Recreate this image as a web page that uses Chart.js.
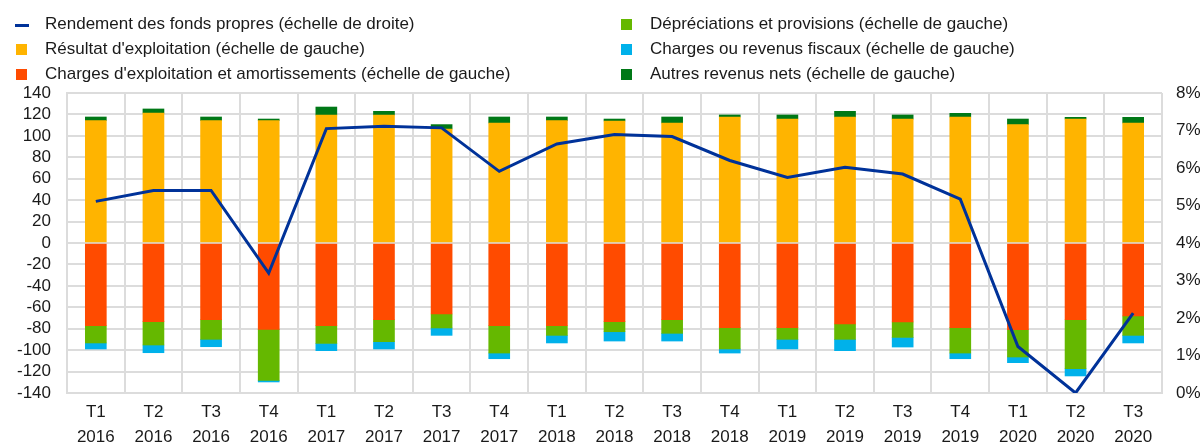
<!DOCTYPE html>
<html>
<head>
<meta charset="utf-8">
<script src="https://cdn.jsdelivr.net/npm/chart.js@4.4.1/dist/chart.umd.min.js"></script>
<style>
  body { margin: 0; background: #fff; font-family: "Liberation Sans", Arial, sans-serif; }
  #wrap { position: relative; width: 1202px; height: 445px; }
  .leg { position: absolute; font-size: 17px; color: #1a1a1a; white-space: nowrap; line-height: 18px; }
  .leg i { position: absolute; left: -29px; top: 4px; width: 11px; height: 11px; }
  .leg i.ln { height: 3px; top: 9px; width: 14px; left: -30px; }
</style>
</head>
<body>
<div id="wrap">
  <canvas id="c" width="1202" height="445"></canvas>
</div>
<script>
// categories
const trimestres = ['T1','T2','T3','T4','T1','T2','T3','T4','T1','T2','T3','T4','T1','T2','T3','T4','T1','T2','T3'];
const annees = ['2016','2016','2016','2016','2017','2017','2017','2017','2018','2018','2018','2018','2019','2019','2019','2019','2020','2020','2020'];

// series (left axis, bars)
const resultatExploitation = [114.2,121.3,114.2,114.2,119.5,119.5,106.4,112.0,114.2,113.9,112.0,117.6,115.7,117.6,115.7,117.6,110.5,115.7,112.0];
const chargesExploitation = [-77.2,-73.4,-71.6,-80.6,-77.2,-71.6,-66.3,-77.2,-77.2,-73.4,-71.6,-79.0,-79.0,-75.6,-73.7,-79.0,-80.9,-71.6,-68.1];
const depreciations = [-16.1,-21.8,-18.3,-47.6,-16.5,-20.5,-13.0,-25.5,-9.0,-9.4,-12.7,-19.9,-10.9,-14.3,-14.4,-23.7,-25.5,-45.7,-18.1];
const fiscaux = [-5.6,-7.2,-6.9,-1.5,-6.8,-6.8,-6.9,-5.3,-7.1,-8.7,-7.2,-3.8,-9.0,-10.6,-9.0,-5.3,-5.3,-6.8,-7.1];
const autresRevenus = [3.4,3.8,3.4,1.5,7.4,3.4,4.1,5.6,3.4,1.8,5.6,1.9,3.8,5.3,3.8,3.4,5.2,1.6,5.3];

// series (right axis, line, %)
const rendement = [5.11,5.40,5.40,3.20,7.05,7.11,7.07,5.91,6.64,6.89,6.84,6.20,5.75,6.02,5.84,5.17,1.24,0.0,2.13];

// tick labels
const ticksGauche = [140,120,100,80,60,40,20,0,-20,-40,-60,-80,-100,-120,-140];
const ticksDroite = ['0%','1%','2%','3%','4%','5%','6%','7%','8%'];

// legend
const legende = [
  { txt: 'Rendement des fonds propres (échelle de droite)', col: '#003299', line: true, x: 45, y: 15 },
  { txt: "Résultat d'exploitation (échelle de gauche)", col: '#FFB400', x: 45, y: 40 },
  { txt: "Charges d'exploitation et amortissements (échelle de gauche)", col: '#FF4B00', x: 45, y: 65 },
  { txt: 'Dépréciations et provisions (échelle de gauche)', col: '#65B800', x: 650, y: 15 },
  { txt: 'Charges ou revenus fiscaux (échelle de gauche)', col: '#00B1EA', x: 650, y: 40 },
  { txt: 'Autres revenus nets (échelle de gauche)', col: '#007816', x: 650, y: 65 }
];
const wrap = document.getElementById('wrap');
legende.forEach(l => {
  const d = document.createElement('div');
  d.className = 'leg';
  d.style.left = l.x + 'px';
  d.style.top = l.y + 'px';
  d.innerHTML = `<i class="${l.line ? 'ln' : ''}" style="background:${l.col}"></i>${l.txt}`;
  wrap.appendChild(d);
});

const labels = trimestres.map((t, i) => [t, annees[i]]);
const police = { family: '"Liberation Sans", Arial, sans-serif', size: 17 };
const barre = (label, data, color) => ({
  type: 'bar', label, data, backgroundColor: color, stack: 'a',
  yAxisID: 'y', barThickness: 21, order: 1
});

new Chart(document.getElementById('c'), {
  data: {
    labels: labels,
    datasets: [
      {
        type: 'line', label: 'Rendement des fonds propres', data: rendement,
        yAxisID: 'y2', borderColor: '#003299', borderWidth: 3, pointRadius: 0,
        tension: 0, order: 0
      },
      barre("Résultat d'exploitation", resultatExploitation, '#FFB400'),
      barre("Charges d'exploitation et amortissements", chargesExploitation, '#FF4B00'),
      barre('Dépréciations et provisions', depreciations, '#65B800'),
      barre('Charges ou revenus fiscaux', fiscaux, '#00B1EA'),
      barre('Autres revenus nets', autresRevenus, '#007816')
    ]
  },
  options: {
    responsive: false,
    animation: false,
    layout: { padding: { top: 93, left: 0, right: 0, bottom: 0 } },
    plugins: { legend: { display: false }, tooltip: { enabled: false } },
    scales: {
      x: {
        stacked: true,
        offset: true,
        grid: { offset: true, color: '#dcdcdc', lineWidth: 2, drawTicks: false },
        border: { color: '#dcdcdc', width: 2 },
        ticks: { color: '#1a1a1a', font: { ...police, lineHeight: 1.45 }, padding: 7, maxRotation: 0, autoSkip: false },
        afterFit: s => { s.height = 52; }
      },
      y: {
        stacked: true,
        position: 'left',
        min: -140, max: 140,
        afterBuildTicks: s => { s.ticks = ticksGauche.map(v => ({ value: v })); },
        grid: { color: '#dcdcdc', lineWidth: 2, drawTicks: false },
        border: { color: '#dcdcdc', width: 2 },
        ticks: { color: '#1a1a1a', font: police, padding: 16, autoSkip: false },
        afterFit: s => { s.width = 67; }
      },
      y2: {
        position: 'right',
        min: 0, max: 8,
        afterBuildTicks: s => { s.ticks = ticksDroite.map((t, i) => ({ value: i })); },
        grid: { display: false, drawTicks: false },
        border: { display: false },
        ticks: { color: '#1a1a1a', font: police, padding: 14, autoSkip: false, callback: v => ticksDroite[v] },
        afterFit: s => { s.width = 40; }
      }
    }
  }
});
</script>
</body>
</html>
